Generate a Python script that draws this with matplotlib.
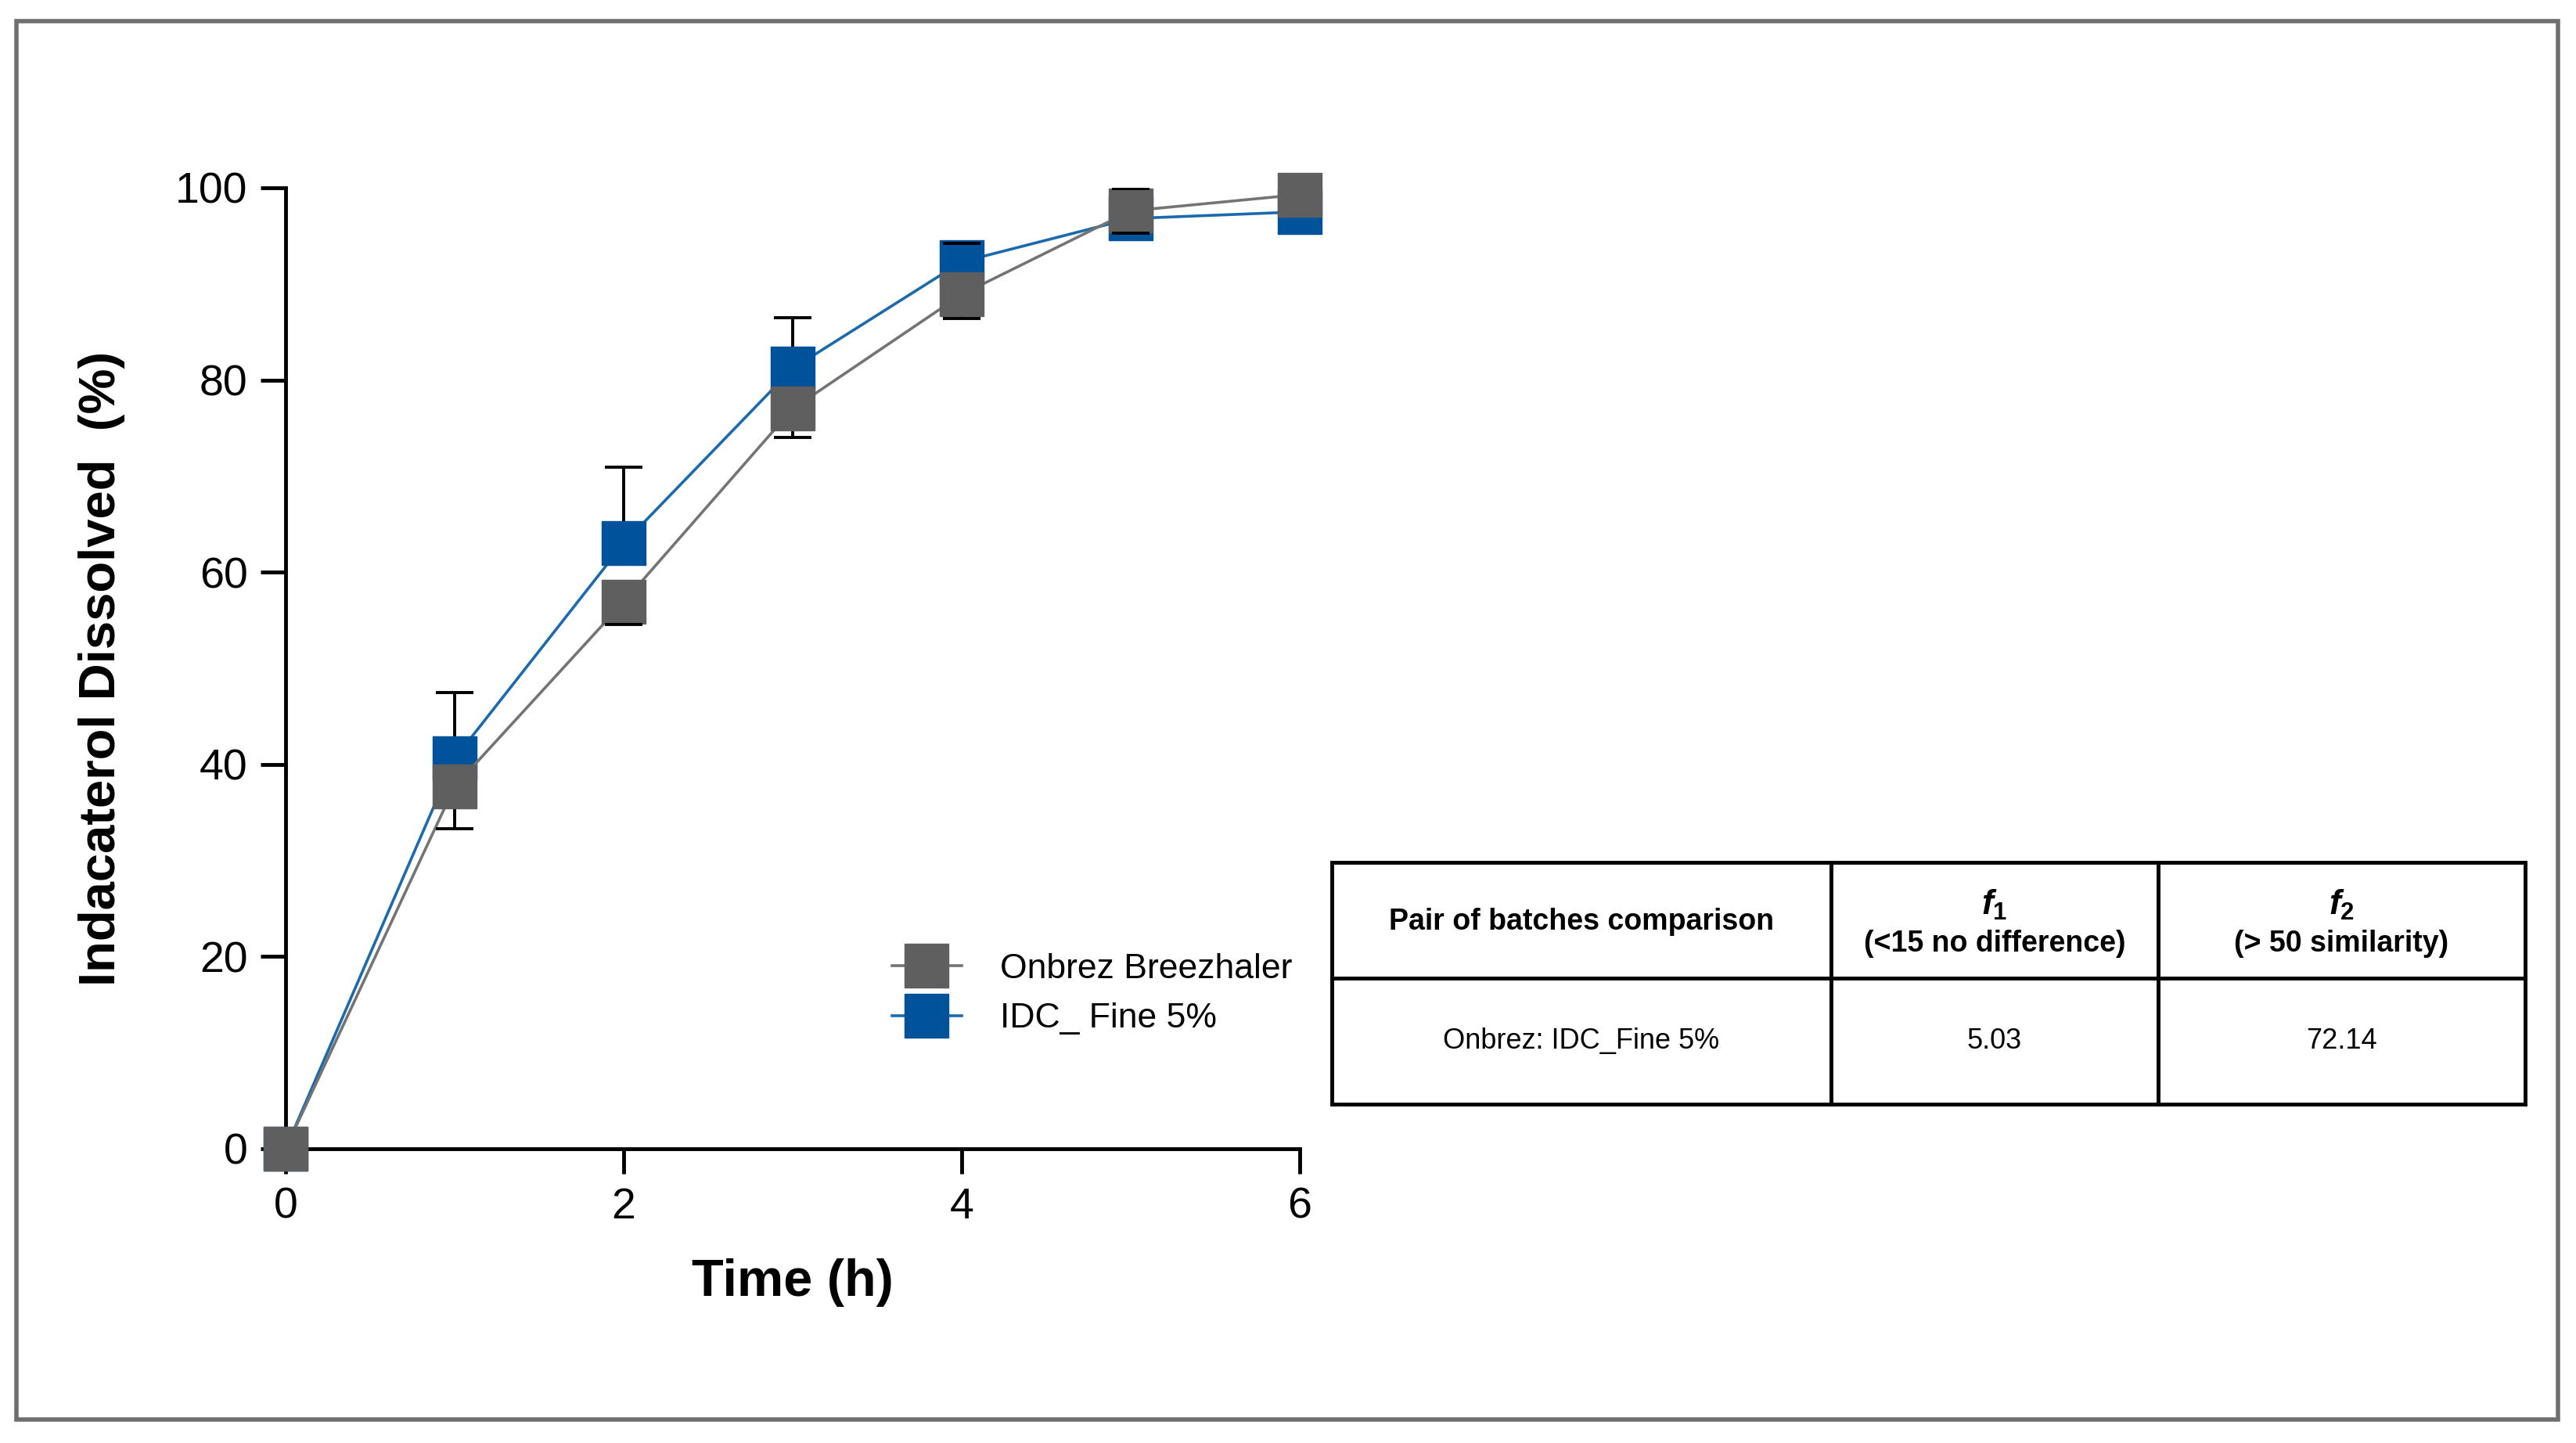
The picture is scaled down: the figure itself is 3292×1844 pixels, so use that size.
import numpy as np
import matplotlib
matplotlib.use("Agg")
from matplotlib import pyplot as plt
from matplotlib.patches import Rectangle

plt.rcParams['font.family'] = ['Liberation Sans', 'DejaVu Sans']
plt.rcParams['mathtext.fontset'] = 'custom'
plt.rcParams['mathtext.it'] = 'Liberation Sans:italic:bold'
plt.rcParams['mathtext.rm'] = 'Liberation Sans:bold'

# dissolution data
time_h = [0, 1, 2, 3, 4, 5, 6]
onbrez_mean = [0, 37.7, 56.9, 77.0, 88.9, 97.6, 99.3]
onbrez_sd = [0, 4.4, 2.3, 3.0, 2.5, 2.3, 0]
idc_mean = [0, 40.6, 63.0, 81.2, 92.3, 96.8, 97.5]
idc_sd = [0, 6.9, 7.9, 5.3, 1.9, 3.1, 0]

x_ticks = [0, 2, 4, 6]
y_ticks = [0, 20, 40, 60, 80, 100]

# f1 / f2 table
col_captions = ["Pair of batches comparison", "(<15 no difference)", "(> 50 similarity)"]
col_symbols = ["", "$f_1$", "$f_2$"]
col_widths = [638, 418, 469]
row_cells = ["Onbrez: IDC_Fine 5%", "5.03", "72.14"]

gray_line = '#747474'
gray_mark = '#5f5f5f'
blue_line = '#1a6aad'
blue_mark = '#00529b'

fig = plt.figure(figsize=(32.92, 18.44), dpi=100)
fig.patches.append(Rectangle((21/3292, 1-1814/1844), (3269-21)/3292, (1814-27)/1844,
                             transform=fig.transFigure, fill=False,
                             edgecolor='#6f6f6f', linewidth=4))

ax = fig.add_axes([365/3292, 1-1468/1844, (1661-365)/3292, (1468-240)/1844])

t = np.array(time_h)


def one_sided_err(mean, sd, sign):
    # Prism style: bar only drawn on one side of the mean
    m = np.array(mean)
    s = np.array(sd)
    keep = s > 0
    ends = m + sign * s
    ax.vlines(t[keep], m[keep], ends[keep], color='black', lw=2.8, zorder=2)
    ax.plot(t[keep], ends[keep], ls='none', marker='_', ms=34, mew=2.8,
            color='black', zorder=5)


one_sided_err(idc_mean, idc_sd, +1)
one_sided_err(onbrez_mean, onbrez_sd, -1)

ax.plot(t, idc_mean, color=blue_line, lw=2.6, marker='s', ms=40,
        mfc=blue_mark, mec=blue_mark, label='IDC_ Fine 5%', zorder=3, clip_on=False)
ax.plot(t, onbrez_mean, color=gray_line, lw=2.6, marker='s', ms=40,
        mfc=gray_mark, mec=gray_mark, label='Onbrez Breezhaler', zorder=4, clip_on=False)

ax.set_xlim(0, 6)
ax.set_ylim(0, 100)
ax.set_xticks(x_ticks)
ax.set_yticks(y_ticks)
for s in ['top', 'right']:
    ax.spines[s].set_visible(False)
for s in ['left', 'bottom']:
    ax.spines[s].set_linewidth(3.5)
ax.tick_params(axis='both', length=23, width=3.5, labelsize=40, pad=12, direction='out')
ax.set_xlabel('Time (h)', fontsize=48, fontweight='bold', labelpad=28)
ax.set_ylabel('Indacaterol Dissolved  (%)', fontsize=47, fontweight='bold', labelpad=46)

h, l = ax.get_legend_handles_labels()
fig.legend(h[::-1], l[::-1], loc='center left', bbox_to_anchor=(1140/3292, 1-1270/1844),
           frameon=False, fontsize=32, handlelength=2.0, handletextpad=1.1,
           labelspacing=0.5, borderpad=0, borderaxespad=0)

# comparison table: cells from ax.table, header texts placed by hand
tax = fig.add_axes([1702/3292, 1-1411/1844, 1525/3292, 309/1844])
tax.axis('off')
tbl = tax.table(cellText=[row_cells], colLabels=[""] * 3,
                colWidths=col_widths, cellLoc='center', bbox=[0, 0, 1, 1])
tbl.auto_set_font_size(False)
for (r, c), cell in tbl.get_celld().items():
    cell.set_linewidth(3.5)
    cell.set_edgecolor('black')
    cell.set_height(148/309 if r == 0 else 161/309)
    cell.get_text().set_fontsize(26)

edges = np.cumsum([0] + col_widths) / sum(col_widths)
for i in range(3):
    xc = (edges[i] + edges[i + 1]) / 2
    if col_symbols[i]:
        tax.text(xc, 0.825, col_symbols[i], fontsize=32, ha='center', va='center')
        tax.text(xc, 0.665, col_captions[i], fontsize=27, fontweight='bold',
                 ha='center', va='center')
    else:
        tax.text(xc, 0.755, col_captions[i], fontsize=27, fontweight='bold',
                 ha='center', va='center')

fig.savefig('out.png', dpi=100, facecolor='white')
